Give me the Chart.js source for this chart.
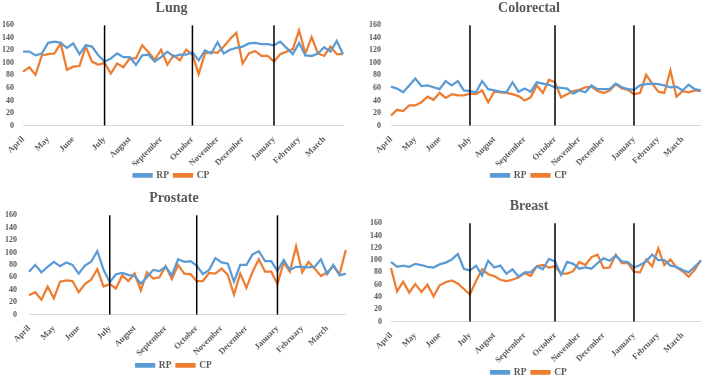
<!DOCTYPE html>
<html>
<head>
<meta charset="utf-8">
<script src="https://cdn.jsdelivr.net/npm/chart.js@4/dist/chart.umd.min.js"></script>
<style>
  body { margin: 0; background: #fff; overflow: hidden; }
  .panel { position: absolute; width: 354px; height: 190px; }
</style>
</head>
<body>
<div class="panel" style="left:0;top:0"><canvas id="lungChart"></canvas></div>
<div class="panel" style="left:354px;top:0;width:355px"><canvas id="colorectalChart"></canvas></div>
<div class="panel" style="left:0;top:190px"><canvas id="prostateChart"></canvas></div>
<div class="panel" style="left:354px;top:197px;width:355px"><canvas id="breastChart"></canvas></div>
<script>
// 52 weeks, month name on the first week of each month
const weeks = [
  'April', '', '', '',
  'May', '', '', '',
  'June', '', '', '', '',
  'July', '', '', '',
  'August', '', '', '', '',
  'September', '', '', '', '',
  'October', '', '', '',
  'November', '', '', '',
  'December', '', '', '', '',
  'January', '', '', '',
  'February', '', '', '',
  'March', '', '', ''
];

// weeks where the quarter separators are drawn (July, October, January)
const quarterLines = [13, 27, 40];

const lungRP = [118, 118, 112, 115, 132, 134, 132, 124, 131, 114, 128, 126, 112, 102, 107, 115, 109, 109, 97, 112,
  113, 102, 109, 118, 110, 113, 113, 117, 104, 120, 115, 133, 115, 121, 124, 126, 131, 132, 130, 130,
  128, 134, 124, 114, 132, 112, 111, 115, 125, 118, 135, 114];
const lungCP = [86, 93, 81, 112, 114, 115, 131, 89, 94, 95, 126, 102, 97, 100, 83, 99, 93, 107, 107, 128,
  117, 105, 121, 97, 112, 104, 121, 113, 82, 115, 117, 116, 126, 138, 148, 99, 115, 119, 111, 111,
  102, 114, 118, 122, 152, 115, 141, 115, 111, 126, 114, 114];

const colorectalRP = [62, 59, 53, 64, 75, 63, 64, 61, 58, 71, 64, 71, 56, 55, 53, 71, 58, 56, 54, 53,
  69, 54, 59, 54, 69, 67, 65, 61, 60, 59, 51, 56, 53, 64, 58, 58, 58, 67, 61, 58,
  57, 64, 66, 67, 66, 64, 61, 62, 56, 65, 58, 56];
const colorectalCP = [16, 25, 23, 32, 32, 37, 46, 41, 52, 44, 50, 48, 48, 51, 50, 56, 37, 54, 53, 52,
  50, 47, 40, 45, 64, 52, 73, 69, 45, 50, 55, 57, 61, 62, 55, 52, 56, 66, 59, 57,
  50, 52, 81, 67, 54, 52, 88, 46, 55, 53, 56, 55];

const prostateRP = [69, 80, 68, 77, 85, 78, 84, 80, 66, 79, 85, 102, 72, 52, 65, 67, 64, 62, 50, 60,
  72, 70, 77, 63, 89, 85, 86, 79, 65, 72, 91, 84, 82, 53, 80, 80, 97, 102, 86, 86,
  70, 88, 72, 77, 77, 76, 77, 89, 65, 80, 63, 66];
const prostateCP = [31, 36, 24, 45, 26, 53, 55, 54, 36, 49, 56, 73, 45, 49, 42, 63, 54, 66, 39, 68,
  58, 60, 78, 57, 80, 66, 65, 54, 54, 67, 66, 74, 64, 32, 66, 43, 69, 89, 69, 69,
  49, 84, 69, 110, 68, 85, 74, 62, 68, 78, 65, 104];

const breastRP = [97, 89, 91, 89, 94, 92, 89, 88, 93, 96, 101, 110, 86, 83, 91, 75, 99, 88, 91, 78,
  85, 73, 80, 80, 90, 85, 102, 98, 76, 97, 94, 86, 88, 86, 95, 103, 99, 107, 98, 97,
  88, 92, 98, 109, 100, 100, 91, 89, 84, 80, 89, 99];
const breastCP = [87, 49, 65, 47, 61, 48, 60, 41, 59, 64, 67, 62, 53, 44, 66, 85, 77, 74, 68, 66,
  68, 72, 79, 74, 90, 92, 88, 90, 78, 78, 82, 97, 92, 105, 109, 87, 88, 109, 95, 95,
  81, 80, 101, 90, 119, 92, 101, 88, 82, 73, 84, 100];

const fontFamily = '"Liberation Serif", "Times New Roman", serif';
const textColor = '#595959';

// Draws the black vertical separators between quarters
const quarterLinePlugin = {
  id: 'quarterLines',
  afterDatasetsDraw(chart) {
    const ctx = chart.ctx;
    const x = chart.scales.x;
    const area = chart.chartArea;
    ctx.save();
    ctx.strokeStyle = '#000';
    ctx.lineWidth = 1.5;
    quarterLines.forEach(week => {
      const px = x.getPixelForValue(week);
      ctx.beginPath();
      ctx.moveTo(px, area.top);
      ctx.lineTo(px, area.bottom);
      ctx.stroke();
    });
    ctx.restore();
  }
};

function drawChart(canvasId, title, rp, cp, box) {
  const ctx = document.getElementById(canvasId).getContext('2d');

  const chartData = {
    labels: weeks,
    datasets: [{
      label: 'RP',
      data: rp,
      borderColor: '#5B9BD5',
      backgroundColor: '#5B9BD5',
      borderWidth: 2.25,
      pointRadius: 0,
      tension: 0
    }, {
      label: 'CP',
      data: cp,
      borderColor: '#ED7D31',
      backgroundColor: '#ED7D31',
      borderWidth: 2.25,
      pointRadius: 0,
      tension: 0
    }]
  };

  const config = {
    type: 'line',
    data: chartData,
    options: {
      responsive: true,
      maintainAspectRatio: false,
      animation: false,
      layout: {
        padding: { left: 0, right: box.right, top: box.top, bottom: 0 }
      },
      plugins: {
        title: {
          display: true,
          text: title,
          color: textColor,
          font: { family: fontFamily, size: 14, weight: 'bold' },
          padding: { top: 0, bottom: 8.5 }
        },
        legend: {
          position: 'bottom',
          labels: {
            color: textColor,
            boxWidth: 18,
            boxHeight: 2.5,
            padding: 5,
            font: { family: fontFamily, size: 9.5, weight: 'bold' }
          }
        },
        tooltip: { enabled: false }
      },
      scales: {
        x: {
          grid: { display: false },
          border: { display: true, color: '#d9d9d9' },
          ticks: {
            autoSkip: false,
            minRotation: 45,
            maxRotation: 45,
            color: textColor,
            font: { family: fontFamily, size: 8.5, weight: 'bold' },
            padding: 1
          },
          afterFit: scale => { scale.height = box.xHeight; }
        },
        y: {
          min: 0,
          max: 160,
          grid: { display: false, drawTicks: false },
          border: { display: false },
          ticks: {
            stepSize: 20,
            autoSkip: false,
            color: textColor,
            font: { family: fontFamily, size: 8, weight: 'bold' },
            padding: box.tickGap
          },
          afterFit: scale => { scale.width = box.left; }
        }
      }
    },
    plugins: [quarterLinePlugin]
  };

  new Chart(ctx, config);
}

drawChart('lungChart', 'Lung', lungRP, lungCP, { left: 23, right: 11, top: 0, xHeight: 40, tickGap: 9 });
drawChart('colorectalChart', 'Colorectal', colorectalRP, colorectalCP, { left: 37, right: 5, top: 0, xHeight: 40, tickGap: 10 });
drawChart('prostateChart', 'Prostate', prostateRP, prostateCP, { left: 29, right: 6, top: 0, xHeight: 41, tickGap: 12 });
drawChart('breastChart', 'Breast', breastRP, breastCP, { left: 37, right: 5, top: 1, xHeight: 41, tickGap: 9 });
</script>
</body>
</html>
